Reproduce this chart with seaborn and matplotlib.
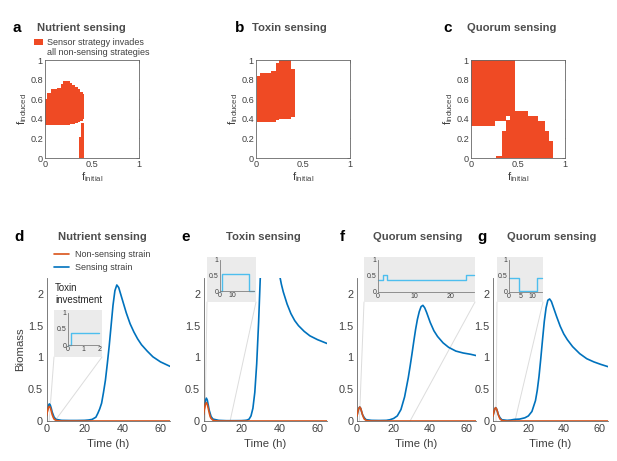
import numpy as np
import matplotlib
matplotlib.use("Agg")
import matplotlib.pyplot as plt
from matplotlib.colors import ListedColormap
from matplotlib.patches import Patch, ConnectionPatch
from matplotlib.lines import Line2D
import seaborn as sns

sns.set_style("white")
plt.rcParams["font.family"] = ["Liberation Sans", "DejaVu Sans"]
plt.rcParams["mathtext.default"] = "regular"

RED = "#ef4a24"
ORANGE = "#d95319"
BLUE = "#0072bd"
CYAN = "#4dbeee"
TXT = "#404040"
TITLE = "#4d4d4d"
AXC = "#666666"

# ---------------- top row: regions where the sensor invades ----------------
# each red block: f_initial from x0 to x1, f_induced from y0 to y1
nut_x0 = [0.000, 0.025, 0.064, 0.124, 0.170, 0.190, 0.266, 0.290, 0.320, 0.350, 0.376, 0.400, 0.362, 0.385]
nut_x1 = [0.025, 0.064, 0.124, 0.170, 0.190, 0.266, 0.290, 0.320, 0.350, 0.376, 0.400, 0.410, 0.385, 0.410]
nut_y0 = [0.34, 0.34, 0.34, 0.34, 0.34, 0.34, 0.345, 0.35, 0.36, 0.37, 0.38, 0.40, 0.0, 0.0]
nut_y1 = [0.60, 0.66, 0.70, 0.715, 0.75, 0.79, 0.77, 0.74, 0.72, 0.70, 0.67, 0.65, 0.21, 0.36]

tox_x0 = [0.010, 0.040, 0.160, 0.210, 0.240, 0.375]
tox_x1 = [0.040, 0.160, 0.210, 0.240, 0.375, 0.410]
tox_y0 = [0.37, 0.37, 0.37, 0.39, 0.395, 0.42]
tox_y1 = [0.835, 0.865, 0.89, 0.97, 1.0, 0.91]

quo_x0 = [0.000, 0.262, 0.369, 0.369, 0.415, 0.270, 0.330, 0.470, 0.610, 0.716, 0.787, 0.833]
quo_x1 = [0.262, 0.369, 0.415, 0.415, 0.470, 0.330, 0.369, 0.610, 0.716, 0.787, 0.833, 0.870]
quo_y0 = [0.327, 0.374, 0.43, 0.0, 0.0, 0.0, 0.0, 0.0, 0.0, 0.0, 0.0, 0.0]
quo_y1 = [1.0, 1.0, 1.0, 0.384, 1.0, 0.027, 0.275, 0.478, 0.43, 0.38, 0.275, 0.17]

map_xticks = [0, 0.5, 1]
map_yticks = [0, 0.2, 0.4, 0.6, 0.8, 1]

# ---------------- bottom row: biomass over time ----------------
t_ns = [0, 0.5, 1, 1.5, 2, 2.5, 3, 3.5, 4, 5, 6, 8, 65]
d_ns = [0.08, 0.15, 0.21, 0.23, 0.21, 0.16, 0.10, 0.06, 0.03, 0.01, 0.003, 0, 0]
e_ns = [0.10, 0.19, 0.26, 0.29, 0.26, 0.20, 0.13, 0.07, 0.04, 0.012, 0.004, 0, 0]
f_ns = [0.08, 0.15, 0.20, 0.22, 0.20, 0.15, 0.10, 0.06, 0.03, 0.01, 0.003, 0, 0]
g_ns = [0.08, 0.14, 0.19, 0.21, 0.19, 0.15, 0.10, 0.06, 0.03, 0.01, 0.003, 0, 0]

d_ts = [0, 0.5, 1, 1.5, 2, 2.5, 3, 4, 5, 8, 12, 16, 20, 22, 24, 26, 27, 28, 29, 30, 31, 32, 33,
        34, 35, 36, 37, 38, 39, 40, 42, 44, 46, 48, 50, 53, 56, 60, 65]
d_s = [0.08, 0.17, 0.24, 0.27, 0.25, 0.20, 0.14, 0.06, 0.025, 0.01, 0.008, 0.008, 0.01, 0.015,
       0.025, 0.06, 0.12, 0.19, 0.28, 0.45, 0.64, 0.90, 1.18, 1.50, 1.82, 2.05, 2.14, 2.10, 2.00,
       1.90, 1.70, 1.53, 1.40, 1.29, 1.20, 1.10, 1.01, 0.93, 0.86]

e_ts = [0, 0.5, 1, 1.5, 2, 2.5, 3, 4, 5, 8, 12, 16, 20, 22, 23, 24, 25, 26, 27, 28, 29, 30, 31,
        33, 35, 37, 39, 40, 41, 42, 44, 46, 48, 50, 53, 56, 60, 65]
e_s = [0.10, 0.22, 0.32, 0.36, 0.33, 0.25, 0.17, 0.07, 0.03, 0.01, 0.005, 0.005, 0.006, 0.01,
       0.015, 0.03, 0.08, 0.20, 0.45, 0.90, 1.55, 2.35, 2.70, 3.10, 3.10, 2.80, 2.45, 2.30, 2.15,
       2.03, 1.84, 1.69, 1.58, 1.50, 1.41, 1.34, 1.28, 1.22]

f_ts = [0, 0.5, 1, 1.5, 2, 2.5, 3, 4, 5, 8, 12, 16, 18, 20, 22, 24, 26, 28, 29, 30, 31, 32, 33,
        34, 35, 36, 37, 38, 40, 42, 44, 47, 50, 54, 58, 62, 65]
f_s = [0.08, 0.15, 0.20, 0.22, 0.20, 0.15, 0.10, 0.05, 0.02, 0.01, 0.008, 0.01, 0.02, 0.04,
       0.08, 0.18, 0.38, 0.68, 0.86, 1.05, 1.25, 1.44, 1.60, 1.72, 1.80, 1.82, 1.78, 1.71, 1.55,
       1.42, 1.33, 1.23, 1.16, 1.10, 1.07, 1.05, 1.03]

g_ts = [0, 0.5, 1, 1.5, 2, 2.5, 3, 4, 5, 8, 10, 12, 15, 18, 20, 22, 24, 25, 26, 27, 28, 29, 30,
        31, 32, 33, 34, 36, 38, 40, 42, 45, 49, 53, 57, 61, 65]
g_s = [0.08, 0.14, 0.19, 0.21, 0.19, 0.15, 0.10, 0.05, 0.02, 0.01, 0.015, 0.025, 0.03, 0.05,
       0.08, 0.15, 0.32, 0.48, 0.70, 0.98, 1.28, 1.57, 1.78, 1.90, 1.92, 1.88, 1.80, 1.64, 1.49,
       1.37, 1.28, 1.17, 1.06, 0.98, 0.93, 0.89, 0.855]

# toxin investment (inset step traces)
d_inv_t = [0, 0.2, 2]
d_inv = [0.0, 0.38, 0.38]
e_inv_t = [0, 1.3, 23, 27]
e_inv = [0.0, 0.55, 0.0, 0.0]
f_inv_t = [0, 1.3, 2.5, 24.3, 26.5]
f_inv = [0.38, 0.54, 0.38, 0.54, 0.54]
g_inv_t = [0, 4.3, 11.7, 14]
g_inv = [0.44, 0.03, 0.44, 0.44]

inset_xmax = [2, 27, 26.5, 14]
inset_xticks = [[0, 1, 2], [0, 10], [0, 10, 20], [0, 5, 10]]
zoom_from = [1.4, 0.8, 1.3, 1.7]
zoom_to = [4.4, 14, 29, 12.4]

W, H = 617, 461
fig = plt.figure(figsize=(W / 100, H / 100), dpi=100)


def px_axes(l, t, r, b, **kw):
    return fig.add_axes([l / W, 1 - b / H, (r - l) / W, (b - t) / H], **kw)


def invasion_grid(x0, x1, y0, y1, n=200):
    g = np.zeros((n, n))
    for a, b, c, d in zip(x0, x1, y0, y1):
        g[int(round(c * n)):int(round(d * n)), int(round(a * n)):int(round(b * n))] = 1
    return g


N = 200
cmap = ListedColormap(["white", RED])
maps = [
    ((45, 60, 139, 158), nut_x0, nut_x1, nut_y0, nut_y1),
    ((256, 60, 350, 158), tox_x0, tox_x1, tox_y0, tox_y1),
    ((471, 60, 565, 158), quo_x0, quo_x1, quo_y0, quo_y1),
]
for box, x0, x1, y0, y1 in maps:
    ax = px_axes(*box)
    sns.heatmap(invasion_grid(x0, x1, y0, y1, N), ax=ax, cmap=cmap, vmin=0, vmax=1,
                cbar=False, xticklabels=False, yticklabels=False)
    ax.set_xlim(0, N)
    ax.set_ylim(0, N)
    ax.set_xticks([v * N for v in map_xticks], labels=[f"{v:g}" for v in map_xticks])
    ax.set_yticks([v * N for v in map_yticks], labels=[f"{v:g}" for v in map_yticks])
    for s in ax.spines.values():
        s.set_visible(True)
        s.set_color(AXC)
        s.set_linewidth(0.6)
    ax.tick_params(direction="in", length=2.5, width=0.5, top=True, right=True,
                   color=AXC, labelcolor=TXT, labelsize=6.6, pad=1.5)
    ax.tick_params(axis="y", labelrotation=0)
    ax.set_xlabel("f$_{initial}$", fontsize=8, color=TXT, labelpad=1)
    ax.set_ylabel("f$_{induced}$", fontsize=8, color=TXT, labelpad=1)

# ---------------- bottom row ----------------
panels = [
    ((46.5, 278, 170, 421), d_ns, d_ts, d_s, d_inv_t, d_inv,
     (54, 310, 102, 357), (67.7, 312.7, 99.3, 345)),
    ((203.5, 278, 327, 421), e_ns, e_ts, e_s, e_inv_t, e_inv,
     (207, 257, 256, 302), (220, 260, 254, 291)),
    ((357, 278, 476, 421), f_ns, f_ts, f_s, f_inv_t, f_inv,
     (364, 257, 475, 302), (378, 260, 474, 291.7)),
    ((493, 278, 608, 421), g_ns, g_ts, g_s, g_inv_t, g_inv,
     (497, 257, 543, 302), (509, 260, 542, 291.7)),
]
for i, (box, ns, ts, s, it, iv, gbox, ibox) in enumerate(panels):
    ax = px_axes(*box)
    sns.lineplot(x=ts, y=s, color=BLUE, lw=1.2, ax=ax, legend=False, zorder=2)
    sns.lineplot(x=t_ns, y=ns, color=ORANGE, lw=1.2, ax=ax, legend=False, zorder=3)
    ax.set_xlim(0, 65)
    ax.set_ylim(0, 2.25)
    ax.set_xticks([0, 20, 40, 60])
    ax.set_yticks([0, 0.5, 1, 1.5, 2], labels=["0", "0.5", "1", "1.5", "2"])
    for side in ["top", "right"]:
        ax.spines[side].set_visible(False)
    for side in ["left", "bottom"]:
        ax.spines[side].set_color(AXC)
        ax.spines[side].set_linewidth(0.6)
    ax.tick_params(direction="in", length=2.5, width=0.5, color=AXC, labelcolor=TXT,
                   labelsize=7.8, pad=2.5)
    ax.set_xlabel("Time (h)", fontsize=8.2, color=TXT, labelpad=3.5)
    if i == 0:
        ax.set_ylabel("Biomass", fontsize=8.2, color=TXT, labelpad=2)
    else:
        ax.set_ylabel("")

    # grey backing of the inset
    bg = px_axes(*gbox)
    bg.set_facecolor("#ebebeb")
    bg.set_xticks([])
    bg.set_yticks([])
    for sp in bg.spines.values():
        sp.set_visible(False)

    for xa, xb in [((zoom_from[i], 0), (0, 0)), ((zoom_to[i], 0), (1, 0))]:
        con = ConnectionPatch(xyA=xa, coordsA=ax.transData, xyB=xb, coordsB=bg.transAxes,
                              color="#dcdcdc", lw=0.7, zorder=1)
        ax.add_artist(con)

    ins = px_axes(*ibox)
    ins.set_facecolor("none")
    sns.lineplot(x=it, y=iv, color=CYAN, lw=1.0, ax=ins, legend=False,
                 drawstyle="steps-post", clip_on=False)
    ins.set_xlim(0, inset_xmax[i])
    ins.set_ylim(0, 1)
    ins.set_xticks(inset_xticks[i])
    ins.set_yticks([0, 0.5, 1], labels=["0", "0.5", "1"])
    for side in ["top", "right"]:
        ins.spines[side].set_visible(False)
    for side in ["left", "bottom"]:
        ins.spines[side].set_color("#808080")
        ins.spines[side].set_linewidth(0.6)
    ins.tick_params(direction="in", length=1.5, width=0.4, color="#808080",
                    labelcolor=TXT, labelsize=5, pad=1)
    ins.set_xlabel("")
    ins.set_ylabel("")

# ---------------- texts ----------------
for lab, x, y in [("a", 17, 28), ("b", 240, 28), ("c", 448, 28),
                  ("d", 19, 237), ("e", 186, 237), ("f", 342, 237), ("g", 482, 237)]:
    fig.text(x / W, 1 - y / H, lab, fontsize=11, fontweight="bold", color="black",
             ha="center", va="center")
for lab, x in [("Nutrient sensing", 37), ("Toxin sensing", 252), ("Quorum sensing", 467)]:
    fig.text(x / W, 1 - 28 / H, lab, fontsize=8.1, fontweight="bold", color=TITLE,
             ha="left", va="center")
for lab, x in [("Nutrient sensing", 102), ("Toxin sensing", 263),
               ("Quorum sensing", 418), ("Quorum sensing", 552)]:
    fig.text(x / W, 1 - 237 / H, lab, fontsize=8.1, fontweight="bold", color=TITLE,
             ha="center", va="center")
fig.text(55 / W, 1 - 294 / H, "Toxin\ninvestment", fontsize=7, color="#262626",
         ha="left", va="center", linespacing=1.2)

fig.legend([Patch(facecolor=RED, edgecolor="none"), Patch(facecolor="none", edgecolor="none")],
           ["Sensor strategy invades", "all non-sensing strategies"],
           loc="upper left", bbox_to_anchor=(34 / W, 1 - 38 / H), frameon=False,
           fontsize=6.5, labelcolor=TXT, handlelength=1.0, handleheight=0.75,
           handletextpad=0.45, labelspacing=0.12, borderpad=0, borderaxespad=0)
fig.legend([Line2D([], [], color=ORANGE, lw=1.2), Line2D([], [], color=BLUE, lw=1.2)],
           ["Non-sensing strain", "Sensing strain"],
           loc="upper left", bbox_to_anchor=(54 / W, 1 - 250 / H), frameon=False,
           fontsize=6.5, labelcolor=TXT, handlelength=1.7, handletextpad=0.6,
           labelspacing=0.45, borderpad=0, borderaxespad=0)

fig.savefig("out.png", dpi=100)
